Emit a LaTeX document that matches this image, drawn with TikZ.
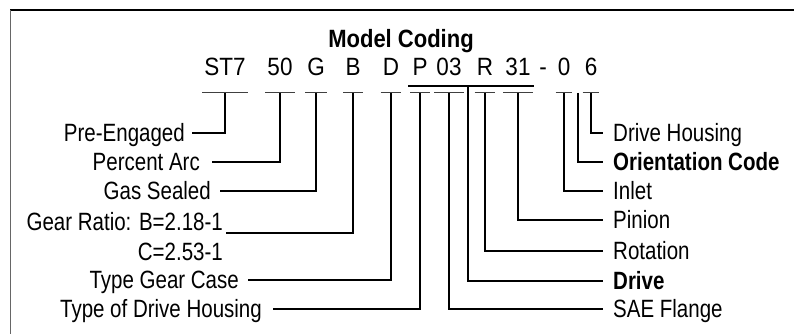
\documentclass[tikz,border=0pt]{standalone}
\usepackage{fontspec}
\setmainfont{Liberation Sans}[FakeStretch=0.82]
\newfontfamily\codefont{Liberation Sans}[FakeStretch=0.9]
\newfontfamily\titlefont{Liberation Sans}[FakeStretch=0.88]
\usetikzlibrary{calc}
\begin{document}
\begin{tikzpicture}[x=1pt,y=-1pt,
  lbl/.style={font=\fontsize{25}{29}\selectfont, text height=17.9pt, text depth=0pt, inner ysep=0pt},
  lbll/.style={lbl, anchor=east, inner xsep=7pt},
  lblr/.style={lbl, anchor=west, inner xsep=10pt},
  code/.style={font=\codefont\fontsize{25}{29}\selectfont, text height=17.9pt, text depth=0pt, inner sep=0pt},
  conn/.style={line width=2pt, line join=miter},
  bar/.style={line width=1pt, black!75},
  over/.style={line width=1.6pt}
]
\useasboundingbox (0,0) rectangle (794,334);
% frame
\draw[line width=2pt] (10,10) -- (794,10);
\draw[line width=1pt, black!60] (10,10) -- (10,334);

% title and code
\node[font=\titlefont\bfseries\fontsize{25}{29}\selectfont, text height=17.9pt, text depth=0pt, inner sep=0pt] (title) at (401,39) {Model Coding};
\node[code] (cST) at (225,67) {ST7};
\node[code] (c50) at (280,67) {50};
\node[code] (cG) at (316,67) {G};
\node[code] (cB) at (353,67) {B};
\node[code] (cD) at (391,67) {D};
\node[code] (cP) at (420,67) {P};
\node[code] (c03) at (449,67) {03};
\node[code] (cR) at (485,67) {R};
\node[code] (c31) at (518,67) {31};
\node[code] (cdash) at (543,67) {-};
\node[code] (c0) at (564,67) {0};
\node[code] (c6) at (591,67) {6};

\coordinate (ol) at (0,86);
\coordinate (bl) at (0,93);
\coordinate (drx) at (468,86);
\coordinate (orx) at (578,93);

% overline
\draw[over] ([xshift=-4pt]cP.west |- ol) -- ([xshift=3pt]c31.east |- ol);

% tick bars
\foreach \n in {cST,c50,cG,cB,cD,cP,c03,cR,c31,c0,c6}{
  \draw[bar] ([xshift=-2pt]\n.west |- bl) -- ([xshift=2pt]\n.east |- bl);
}

% left labels
\node[lbll, inner xsep=7pt] (pe) at (192,133) {Pre-Engaged};
\node[lbll, inner xsep=12pt] (pa) at (212,162) {Percent Arc};
\node[lbll, inner xsep=9pt] (gs) at (220,191) {Gas Sealed};
\node[lbll, inner xsep=3pt] (gr) at (226,222) {Gear Ratio: B=2.18-1};
\node[lbll, inner xsep=3pt] (gc) at (226,252) {C=2.53-1};
\node[lbll, inner xsep=9pt] (tg) at (248,280) {Type Gear Case};
\node[lbll, inner xsep=11pt] (td) at (273,309) {Type of Drive Housing};

% right labels
\node[lblr] (dh) at (603,133) {Drive Housing};
\node[lblr] (oc) at (603,162) {\bfseries Orientation Code};
\node[lblr] (in) at (603,191) {Inlet};
\node[lblr] (pi) at (603,220) {Pinion};
\node[lblr] (ro) at (603,251) {Rotation};
\node[lblr] (dr) at (603,281) {\bfseries Drive};
\node[lblr] (sf) at (603,309) {SAE Flange};

% connectors left
\draw[conn] (pe.east) -| (cST |- bl);
\draw[conn] (pa.east) -| (c50 |- bl);
\draw[conn] (gs.east) -| (cG |- bl);
\draw[conn] ($(gr.base east)+(0,2)$) -| (cB |- bl);
\draw[conn] (tg.east) -| (cD |- bl);
\draw[conn] (td.east) -| (cP |- bl);

% connectors right
\draw[conn] (c6 |- bl) |- (dh.west);
\draw[conn] (orx) |- (oc.west);
\draw[conn] (c0 |- bl) |- (in.west);
\draw[conn] (c31 |- bl) |- (pi.west);
\draw[conn] (cR |- bl) |- (ro.west);
\draw[conn] (drx) |- (dr.west);
\draw[conn] (c03 |- bl) |- (sf.west);
\end{tikzpicture}
\end{document}
